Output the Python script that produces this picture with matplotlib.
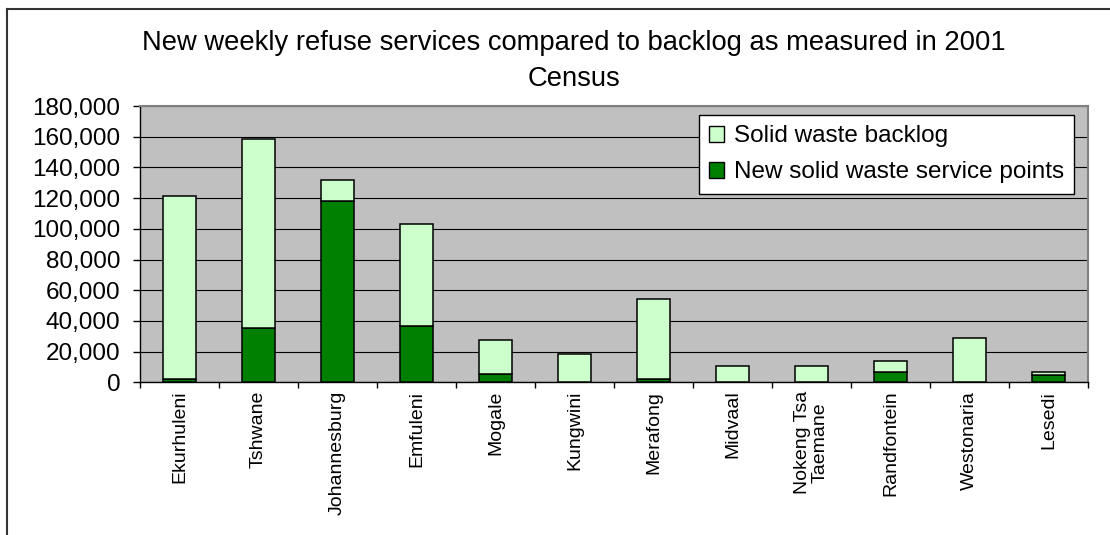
import numpy as np
import matplotlib
matplotlib.use("Agg")
import matplotlib.pyplot as plt
from matplotlib.patches import Patch
from matplotlib.lines import Line2D
from matplotlib.ticker import FuncFormatter

# Municipalities and refuse service counts
districts = ["Ekurhuleni", "Tshwane", "Johannesburg", "Emfuleni", "Mogale",
             "Kungwini", "Merafong", "Midvaal", "Nokeng Tsa\nTaemane",
             "Randfontein", "Westonaria", "Lesedi"]
new_points = [2300, 35600, 118300, 36900, 5600, 0, 2300, 0, 0, 6900, 0, 4750]
backlog = [119200, 122700, 13700, 66400, 22150, 18400, 51800, 10400, 10400,
           7000, 28900, 2150]

title = "New weekly refuse services compared to backlog as measured in 2001\nCensus"
series_labels = ["Solid waste backlog", "New solid waste service points"]

LIGHT = "#CCFFCC"
DARK = "#008000"

plt.rcParams["font.family"] = ["Liberation Sans", "DejaVu Sans"]

W, H = 1110, 535
fig = plt.figure(figsize=(W / 100, H / 100), dpi=100)
ax = fig.add_axes([140 / W, 1 - 382.3 / H, 948 / W, (382.3 - 106) / H])
ax.set_facecolor("#C0C0C0")

x = np.arange(len(districts))
ax.bar(x, new_points, width=0.43, color=DARK, edgecolor="black", linewidth=1.1, zorder=3)
ax.bar(x, backlog, width=0.43, bottom=new_points, color=LIGHT,
       edgecolor="black", linewidth=1.1, zorder=3)

ax.set_xlim(-0.5, len(districts) - 0.5)
ax.set_ylim(0, 180000)
ax.set_yticks(np.arange(0, 180001, 20000))
ax.yaxis.set_major_formatter(FuncFormatter(lambda v, p: f"{int(v):,}"))
ax.tick_params(axis="y", length=5, width=1, direction="out", pad=9, labelsize=17.5)
ax.yaxis.grid(True, color="black", linewidth=0.8)
ax.set_axisbelow(True)

# category boundary ticks, labels at centres
ax.set_xticks(np.arange(-0.5, len(districts), 1))
ax.set_xticklabels([])
ax.tick_params(axis="x", which="major", length=4, width=1, direction="out")
ax.set_xticks(x, minor=True)
ax.set_xticklabels(districts, minor=True, rotation=90, fontsize=14,
                   va="top", ha="center", multialignment="center", linespacing=1.05)
ax.tick_params(axis="x", which="minor", length=0, pad=6)

for side in ("top", "right"):
    ax.spines[side].set_color("#808080")
    ax.spines[side].set_linewidth(1.5)
for side in ("left", "bottom"):
    ax.spines[side].set_color("black")
    ax.spines[side].set_linewidth(1)

handles = [Patch(facecolor=LIGHT, edgecolor="black", linewidth=1),
           Patch(facecolor=DARK, edgecolor="black", linewidth=1)]
ax.legend(handles, series_labels, loc="upper right",
          bbox_to_anchor=(1074 / W, 1 - 115 / H), bbox_transform=fig.transFigure,
          fontsize=17.5, frameon=True, fancybox=False, edgecolor="black",
          framealpha=1, handlelength=0.62, handleheight=0.62, handletextpad=0.4,
          borderpad=0.42, labelspacing=0.58, borderaxespad=0)

fig.text(574 / W, 1 - 61 / H, title, ha="center", va="center",
         fontsize=19.7, linespacing=1.45)

# outer chart frame
fig.add_artist(Line2D([7 / W, 7 / W], [0, 1 - 9 / H], transform=fig.transFigure,
                      color="#333333", linewidth=1.5))
fig.add_artist(Line2D([7 / W, 1], [1 - 9 / H, 1 - 9 / H], transform=fig.transFigure,
                      color="#333333", linewidth=1.5))

fig.savefig("out.png", dpi=100)
